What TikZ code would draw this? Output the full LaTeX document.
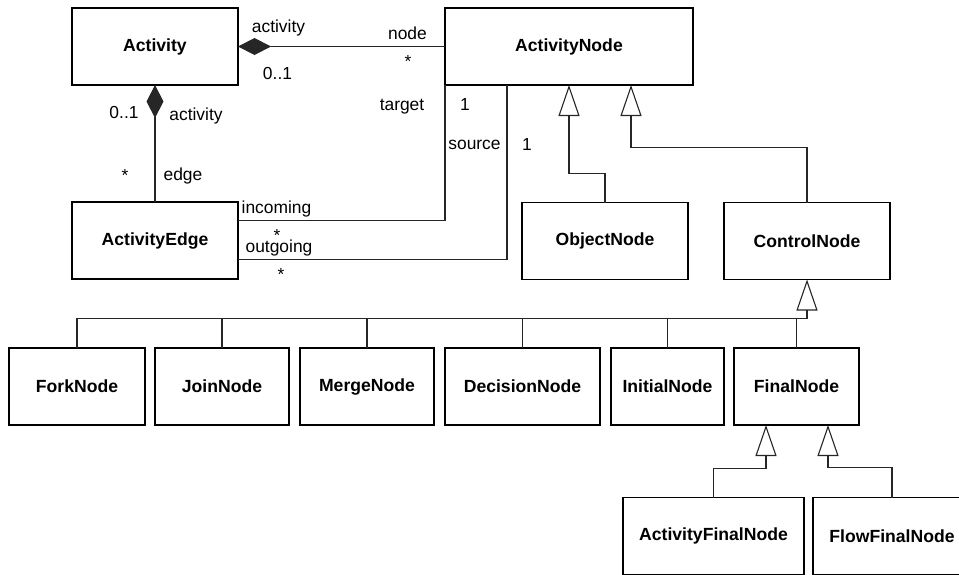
\documentclass[tikz,border=0pt]{standalone}
\usepackage{fontspec}
\setmainfont{Liberation Sans}
\usepackage{tikz}
\usetikzlibrary{arrows.meta, positioning}
\tikzstyle{cls} = [rectangle, draw=black, line width=1.6pt, minimum height=77pt, inner sep=0pt, outer sep=0pt, font=\fontsize{17.6}{20}\selectfont\bfseries]
\tikzstyle{lbl} = [inner sep=0pt, anchor=base, font=\fontsize{17.4}{20}\selectfont]
\tikzstyle{link} = [line width=1.1pt, draw=black!85]
\tikzstyle{gen} = [link, -{Triangle[open, length=31pt, width=21pt]}]
\tikzstyle{comp} = [link, -{Diamond[length=33pt, width=17pt]}]

\begin{document}
\begin{tikzpicture}[x=1pt, y=-1pt, node distance=11pt]
\useasboundingbox (0,0) rectangle (959,574);
\clip (0,0) rectangle (959,574);

\node (activity) [cls, minimum width=166pt] at (155,46.5) {Activity};
\node (actnode) [cls, minimum width=248pt, right=207pt of activity] {ActivityNode};
\node (actedge) [cls, minimum width=166pt, below=117pt of activity] {ActivityEdge};
\node (objnode) [cls, minimum width=166pt] at (605,241) {ObjectNode};
\node (ctrlnode) [cls, minimum width=166pt, right=36pt of objnode] {ControlNode};

\node (fork) [cls, minimum width=136pt] at (77,386.5) {ForkNode};
\node (join) [cls, minimum width=134pt, right=10pt of fork] {JoinNode};
\node (merge) [cls, minimum width=134pt, right=of join] {MergeNode};
\node (decision) [cls, minimum width=155pt, right=of merge] {DecisionNode};
\node (initial) [cls, minimum width=113pt, right=of decision] {InitialNode};
\node (final) [cls, minimum width=125pt, right=10pt of initial] {FinalNode};

\node (actfinal) [cls, minimum width=181pt] at (713.5,536) {ActivityFinalNode};
\node (flowfinal) [cls, minimum width=158pt, right=9pt of actfinal] {FlowFinalNode};

% associations
\draw [comp] (actnode.west) -- (activity.east);
\draw [comp] (actedge.north) -- (activity.south);
\draw [link] ([yshift=20pt]actedge.east) -| (actnode.south west);
\draw [link] ([yshift=-19pt]actedge.east) -| ([xshift=62pt]actnode.south west);

% generalizations
\draw [gen] (objnode.north) -- ++(0,-29) -| (actnode.south);
\draw [gen] (ctrlnode.north) -- ++(0,-55) -| ([xshift=62pt]actnode.south);

\coordinate (bar) at ([yshift=-39pt]ctrlnode.south);
\draw [gen] (bar) -- (ctrlnode.south);
\draw [link] (fork.north) |- (bar);
\draw [link] (join.north) |- (bar);
\draw [link] (merge.north) |- (bar);
\draw [link] (decision.north) |- (bar);
\draw [link] (initial.north) |- (bar);
\draw [link] (final.north) |- (bar);

\draw [gen] (actfinal.north) -- ++(0,-29) -| ([xshift=-30.5pt]final.south);
\draw [gen] (flowfinal.north) -- ++(0,-30) -| ([xshift=31.5pt]final.south);

% role names and multiplicities
\node (actrole) [lbl] at (278.5,32) {activity};
\node (actmult) [lbl] at (277.5,79) {0..1};
\node (noderole) [lbl] at (407.5,39) {node};
\node (nodemult) [lbl] at (408,67) {*};
\node (ownerrole) [lbl] at (196,120) {activity};
\node (ownermult) [lbl] at (124,118) {0..1};
\node (edgerole) [lbl] at (183,180) {edge};
\node (edgemult) [lbl] at (125,181) {*};
\node (targetrole) [lbl] at (402,110) {target};
\node (targetmult) [lbl] at (465,110) {1};
\node (sourcerole) [lbl] at (474.5,149) {source};
\node (sourcemult) [lbl] at (527,150) {1};
\node (inrole) [lbl] at (276.5,213) {incoming};
\node (inmult) [lbl] at (277,241) {*};
\node (outrole) [lbl] at (279,252) {outgoing};
\node (outmult) [lbl] at (281,280) {*};

\end{tikzpicture}
\end{document}
